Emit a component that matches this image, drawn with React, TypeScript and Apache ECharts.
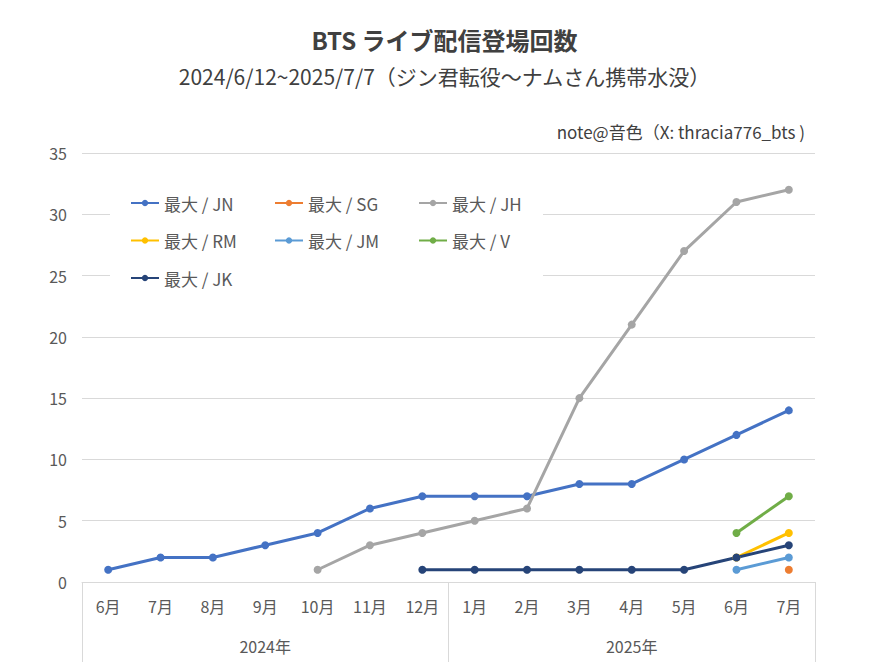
import React, { useEffect, useRef } from "react";
import * as echarts from "echarts";

const months = ["6月", "7月", "8月", "9月", "10月", "11月", "12月", "1月", "2月", "3月", "4月", "5月", "6月", "7月"];
const years = ["2024年", "2025年"];
const seriesNames = ["最大 / JN", "最大 / SG", "最大 / JH", "最大 / RM", "最大 / JM", "最大 / V", "最大 / JK"];
const colors = ["#4472C4", "#ED7D31", "#A5A5A5", "#FFC000", "#5B9BD5", "#70AD47", "#264478"];
const N = null;
const jn = [1, 2, 2, 3, 4, 6, 7, 7, 7, 8, 8, 10, 12, 14];
const sg = [N, N, N, N, N, N, N, N, N, N, N, N, N, 1];
const jh = [N, N, N, N, 1, 3, 4, 5, 6, 15, 21, 27, 31, 32];
const rm = [N, N, N, N, N, N, N, N, N, N, N, N, 2, 4];
const jm = [N, N, N, N, N, N, N, N, N, N, N, N, 1, 2];
const v = [N, N, N, N, N, N, N, N, N, N, N, N, 4, 7];
const jk = [N, N, N, N, N, N, 1, 1, 1, 1, 1, 1, 2, 3];
const allData = [jn, sg, jh, rm, jm, v, jk];
const legendColumns = [
  [seriesNames[0], seriesNames[3], seriesNames[6]],
  [seriesNames[1], seriesNames[4]],
  [seriesNames[2], seriesNames[5]],
];
const legendLefts = [130, 274, 418];

const FONT = "'Noto Sans CJK JP', 'Noto Sans', sans-serif";

export default function App() {
  const ref = useRef<HTMLDivElement>(null);
  useEffect(() => {
    document.body.style.margin = "0";
    const chart = echarts.init(ref.current!, null, { renderer: "svg" });
    chart.setOption({
      animation: false,
      backgroundColor: "#ffffff",
      textStyle: { fontFamily: FONT },
      title: [
        {
          text: "BTS ライブ配信登場回数",
          left: "center",
          top: 22,
          textStyle: { fontSize: 24, fontWeight: "bold", color: "#404040", fontFamily: FONT },
        },
        {
          text: "2024/6/12~2025/7/7（ジン君転役～ナムさん携帯水没）",
          left: "center",
          top: 60,
          textStyle: { fontSize: 21, fontWeight: "normal", color: "#404040", fontFamily: FONT },
        },
        {
          text: "note@音色（X: thracia776_bts )",
          right: 79,
          top: 118,
          textStyle: { fontSize: 17, fontWeight: "normal", color: "#404040", fontFamily: FONT },
        },
      ],
      graphic: [
        {
          type: "rect",
          z: 1,
          shape: { x: 110, y: 185, width: 433, height: 113 },
          style: { fill: "#ffffff" },
        },
      ],
      legend: legendColumns.map((col, i) => ({
        data: col,
        left: legendLefts[i],
        top: 192,
        orient: "vertical",
        padding: 0,
        itemWidth: 28,
        itemHeight: 8,
        itemGap: 15.5,
        textStyle: { fontSize: 17, color: "#595959", lineHeight: 22, fontFamily: FONT },
      })),
      grid: { left: 82, right: 74, top: 153, bottom: 80, containLabel: false },
      xAxis: [
        {
          type: "category",
          data: months,
          position: "bottom",
          boundaryGap: true,
          axisLine: { lineStyle: { color: "#D9D9D9", width: 1 } },
          axisTick: { show: false },
          axisLabel: { color: "#595959", fontSize: 16, margin: 16, interval: 0, fontFamily: FONT },
        },
        {
          type: "category",
          data: years,
          position: "bottom",
          boundaryGap: true,
          axisLine: { show: false },
          axisTick: { show: true, length: 80, lineStyle: { color: "#D9D9D9", width: 1 } },
          axisLabel: { color: "#595959", fontSize: 16, margin: 56, fontFamily: FONT },
        },
      ],
      yAxis: {
        type: "value",
        min: 0,
        max: 35,
        interval: 5,
        axisLine: { show: false },
        axisTick: { show: false },
        splitLine: { lineStyle: { color: "#D9D9D9", width: 1 } },
        axisLabel: { color: "#595959", fontSize: 16, margin: 15, fontFamily: FONT },
      },
      series: seriesNames.map((name, i) => ({
        name,
        type: "line",
        xAxisIndex: 0,
        data: allData[i],
        connectNulls: false,
        symbol: "circle",
        symbolSize: 8,
        showSymbol: true,
        itemStyle: { color: colors[i] },
        lineStyle: { color: colors[i], width: 3 },
        z: 3,
      })),
    });
    return () => chart.dispose();
  }, []);
  return <div ref={ref} style={{ width: 889, height: 662 }} />;
}
